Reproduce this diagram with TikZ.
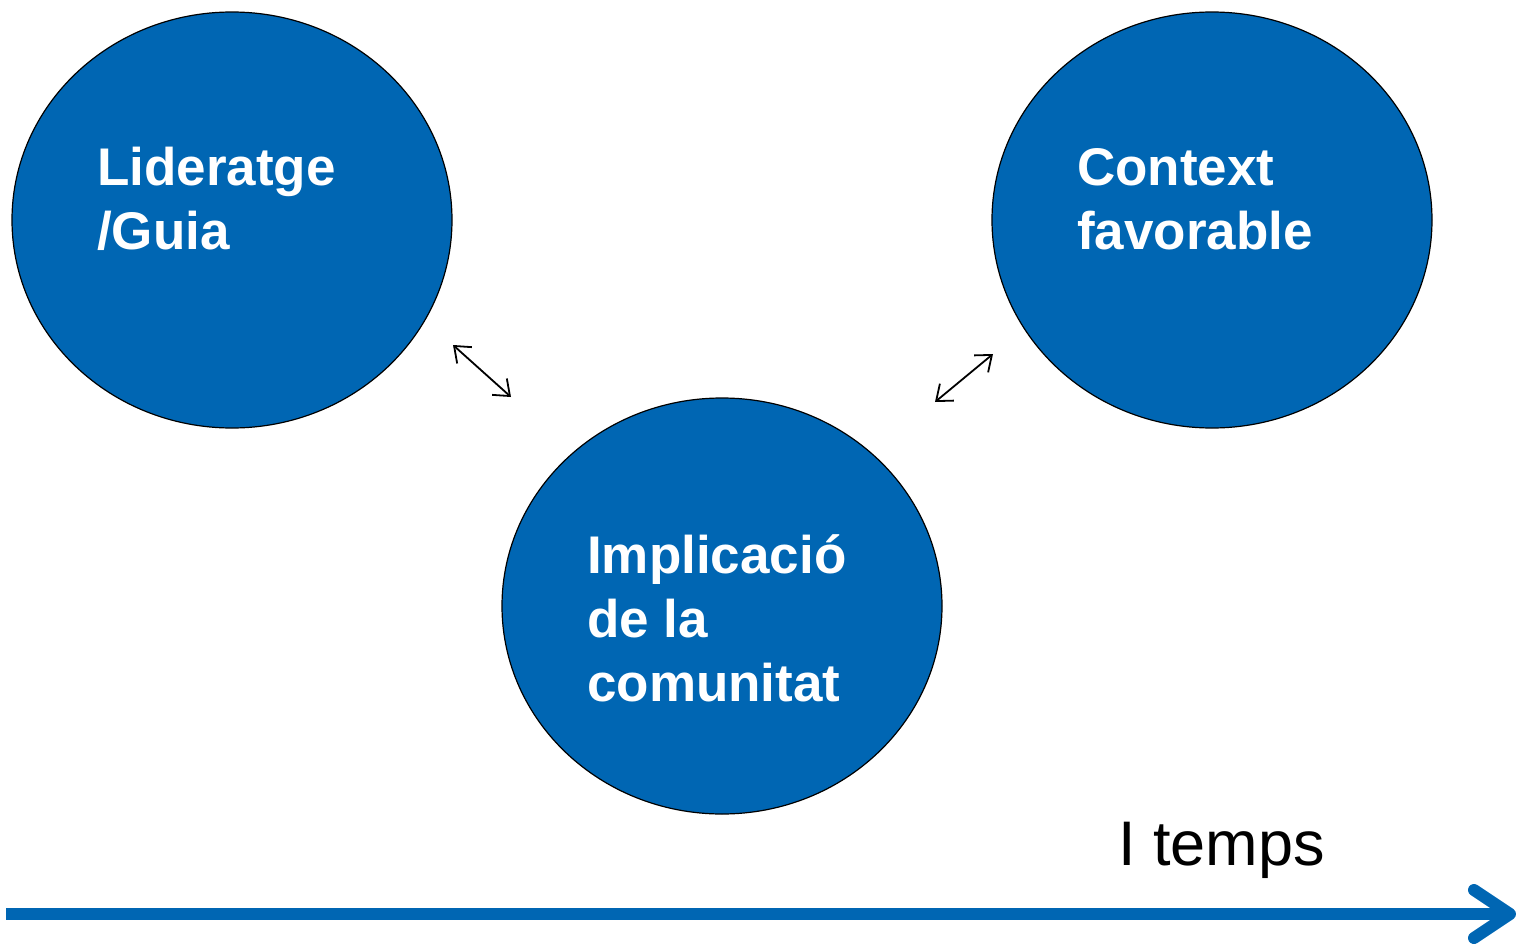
\documentclass[tikz,border=0pt]{standalone}
\usepackage{fontspec}
\setmainfont{Liberation Sans}
\usetikzlibrary{shapes.geometric,arrows.meta}
\definecolor{cblue}{RGB}{0,102,179}
\begin{document}
\begin{tikzpicture}[x=1pt,y=-1pt,
  circ/.style={ellipse,draw=black,line width=1.2pt,fill=cblue,minimum width=440pt,minimum height=416pt,inner sep=0pt},
  lbl/.style={text=white,font=\fontsize{53}{64}\selectfont\bfseries,align=left,anchor=base west,inner sep=0pt},
  dbl/.style={line width=1.8pt,{Straight Barb[length=14pt,width=22pt]}-{Straight Barb[length=14pt,width=22pt]}},
  timeline/.style={cblue,line width=12pt}
]
\useasboundingbox (0,0) rectangle (1516,945);
\node[circ] (lead) at (232,220) {};
\node[circ] (ctx) at (1212,220) {};
\node[circ] (comm) at (722,606) {};
% base anchor of a multi-line node = baseline of its last line
\node[lbl] (leadt) at (97,249) {Lideratge\\/Guia};
\node[lbl] (ctxt) at (1077,249) {Context\\favorable};
\node[lbl] (commt) at (587,701) {Implicació\\de la\\comunitat};
\coordinate (a1) at (453,345);
\coordinate (a2) at (511,397);
\coordinate (b1) at (993,354);
\coordinate (b2) at (935,402);
\draw[dbl] (a1) -- (a2);
\draw[dbl] (b1) -- (b2);
\node[anchor=base west,inner sep=0pt,font=\fontsize{63}{70}\selectfont] (temps) at (1118,865) {I temps};
\coordinate (t0) at (6,914);
\coordinate (t1) at (1510,914);
\coordinate (h1) at (1474,890);
\coordinate (h2) at (1474,938);
\draw[timeline] (t0) -- (t1);
\draw[timeline,line cap=round,line join=round] (h1) -- (t1) -- (h2);
\end{tikzpicture}
\end{document}
